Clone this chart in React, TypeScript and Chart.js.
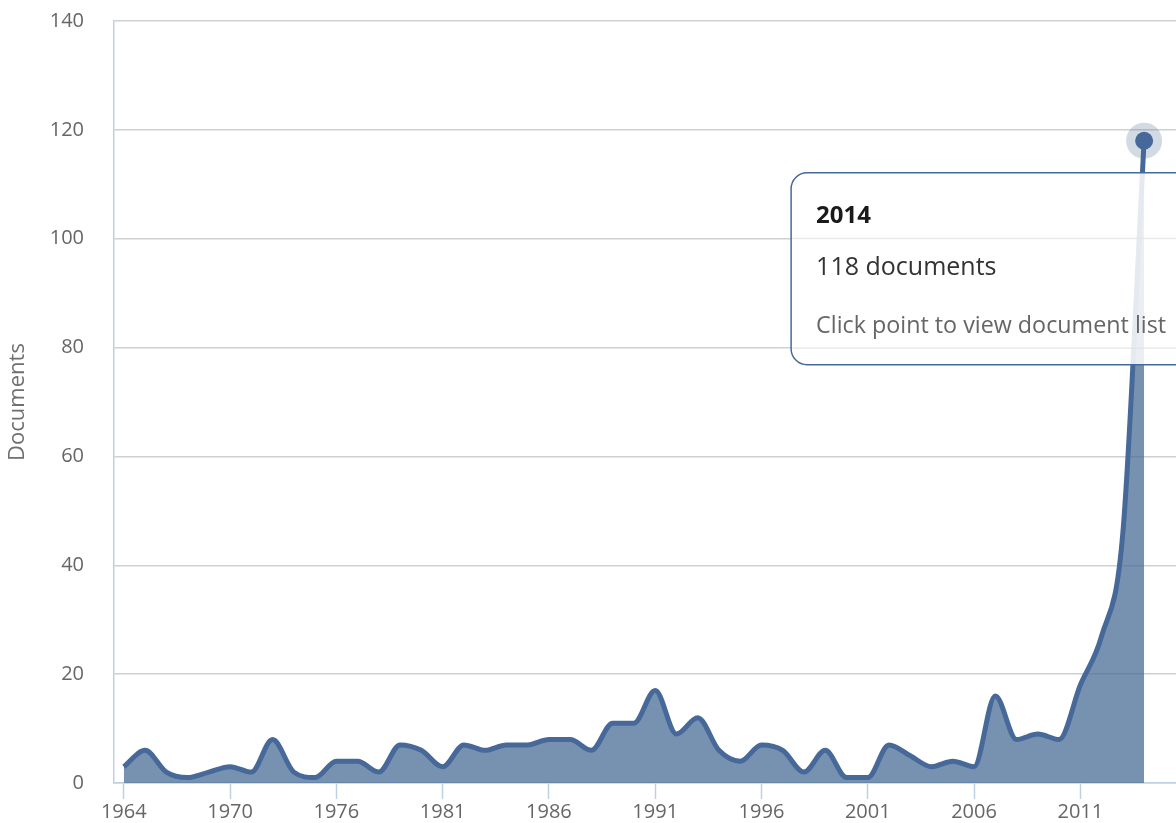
import React, { useEffect, useRef } from 'react';
import { Chart, registerables } from 'chart.js';

Chart.register(...registerables);

// Category years (two years without documents are absent from the axis)
const years = [
  1964, 1965, 1966, 1967, 1969, 1970, 1971, 1972, 1973, 1975,
  1976, 1977, 1978, 1979, 1980, 1981, 1982, 1983, 1984, 1985,
  1986, 1987, 1988, 1989, 1990, 1991, 1992, 1993, 1994, 1995,
  1996, 1997, 1998, 1999, 2000, 2001, 2002, 2003, 2004, 2005,
  2006, 2007, 2008, 2009, 2010, 2011, 2012, 2013, 2014,
];

const documents = [
  3, 6, 2, 1, 2, 3, 2, 8, 2, 1,
  4, 4, 2, 7, 6, 3, 7, 6, 7, 7,
  8, 8, 6, 11, 11, 17, 9, 12, 6, 4,
  7, 6, 2, 6, 1, 1, 7, 5, 3, 4,
  3, 16, 8, 9, 8, 18, 27, 46, 118,
];

const yTickValues = [0, 20, 40, 60, 80, 100, 120, 140];
const xLabelEvery = 5;
const yAxisTitle = 'Documents';
const tooltipUnit = 'documents';
const tooltipHint = 'Click point to view document list';

const FONT = '"Open Sans", "DejaVu Sans", sans-serif';
const LINE = '#46699a';
const AXIS = '#c0d0e0';

const highlightIndex = documents.length - 1;

const staticTooltip = {
  id: 'staticTooltip',
  afterDraw(chart: any) {
    const meta = chart.getDatasetMeta(0);
    const pt = meta.data[highlightIndex];
    if (!pt) return;
    const ctx = chart.ctx as CanvasRenderingContext2D;
    const x0 = pt.x - 353;
    const y0 = pt.y + 32;
    const w = 440;
    const h = 192;
    const r = 16;
    ctx.save();
    ctx.beginPath();
    ctx.moveTo(x0 + r, y0);
    ctx.lineTo(x0 + w - r, y0);
    ctx.arcTo(x0 + w, y0, x0 + w, y0 + r, r);
    ctx.lineTo(x0 + w, y0 + h - r);
    ctx.arcTo(x0 + w, y0 + h, x0 + w - r, y0 + h, r);
    ctx.lineTo(x0 + r, y0 + h);
    ctx.arcTo(x0, y0 + h, x0, y0 + h - r, r);
    ctx.lineTo(x0, y0 + r);
    ctx.arcTo(x0, y0, x0 + r, y0, r);
    ctx.closePath();
    ctx.fillStyle = 'rgba(255,255,255,0.86)';
    ctx.fill();
    ctx.lineWidth = 1.5;
    ctx.strokeStyle = LINE;
    ctx.stroke();

    // faint separators
    ctx.strokeStyle = 'rgba(225,225,225,0.8)';
    ctx.lineWidth = 1;
    ctx.beginPath();
    ctx.moveTo(x0 + 1, y0 + 65.5);
    ctx.lineTo(x0 + w, y0 + 65.5);
    ctx.moveTo(x0 + 1, y0 + 175.5);
    ctx.lineTo(x0 + w, y0 + 175.5);
    ctx.stroke();

    ctx.textAlign = 'left';
    ctx.textBaseline = 'alphabetic';
    ctx.fillStyle = '#1a1a1a';
    ctx.font = `bold 24px ${FONT}`;
    ctx.fillText(String(years[highlightIndex]), x0 + 25, y0 + 50);
    ctx.fillStyle = '#333333';
    ctx.font = `25px ${FONT}`;
    ctx.fillText(`${documents[highlightIndex]} ${tooltipUnit}`, x0 + 25, y0 + 102);
    ctx.fillStyle = '#666666';
    ctx.font = `23.3px ${FONT}`;
    ctx.fillText(tooltipHint, x0 + 25, y0 + 160);
    ctx.restore();
  },
};

export default function App() {
  const canvasRef = useRef<HTMLCanvasElement | null>(null);

  useEffect(() => {
    if (!canvasRef.current) return;
    const points = documents.map((v, i) => ({ x: i, y: v }));
    const haloPoints = documents.map((v, i) => ({ x: i, y: i === highlightIndex ? v : null }));

    const chart = new Chart(canvasRef.current, {
      type: 'line',
      data: {
        datasets: [
          {
            data: points,
            order: 0,
            borderColor: LINE,
            borderWidth: 5,
            backgroundColor: 'rgba(74,109,149,0.75)',
            fill: 'origin',
            cubicInterpolationMode: 'monotone',
            pointRadius: (c: any) => (c.dataIndex === highlightIndex ? 9 : 0),
            pointBackgroundColor: LINE,
            pointBorderWidth: 0,
            pointHoverRadius: 0,
          },
          {
            data: haloPoints,
            order: 1,
            showLine: false,
            fill: false,
            pointRadius: 18,
            pointBackgroundColor: 'rgba(74,109,149,0.25)',
            pointBorderWidth: 0,
            pointHoverRadius: 0,
          },
        ],
      },
      options: {
        animation: false,
        responsive: true,
        maintainAspectRatio: false,
        devicePixelRatio: 1,
        events: [],
        layout: { autoPadding: false, padding: { top: 21, right: 0, bottom: 0, left: 0 } },
        plugins: {
          legend: { display: false },
          tooltip: { enabled: false },
        },
        scales: {
          x: {
            type: 'linear',
            min: -0.46,
            max: 49.5,
            afterBuildTicks: (s: any) => {
              s.ticks = years
                .map((_, i) => i)
                .filter((i) => i % xLabelEvery === 0)
                .map((i) => ({ value: i }));
            },
            afterFit: (s: any) => {
              s.height = 40;
              s.paddingLeft = 0;
              s.paddingRight = 0;
            },
            ticks: {
              autoSkip: false,
              maxRotation: 0,
              padding: 1,
              color: '#666666',
              font: { family: FONT, size: 20 },
              callback: (v: any) => String(years[v] ?? ''),
            },
            grid: {
              drawOnChartArea: false,
              drawTicks: true,
              tickLength: 16,
              tickWidth: 1.5,
              tickColor: AXIS,
              color: AXIS,
            },
            border: { color: AXIS, width: 1.5 },
          },
          y: {
            min: 0,
            max: 140,
            afterBuildTicks: (s: any) => {
              s.ticks = yTickValues.map((v) => ({ value: v }));
            },
            afterFit: (s: any) => {
              s.width = 114;
              s.paddingTop = 0;
              s.paddingBottom = 0;
            },
            ticks: {
              padding: 30,
              color: '#666666',
              font: { family: FONT, size: 20 },
            },
            grid: {
              color: '#d0d0d0',
              lineWidth: 1.5,
              drawTicks: false,
            },
            border: { color: AXIS, width: 1.5 },
            title: {
              display: true,
              text: yAxisTitle,
              color: '#707070',
              font: { family: FONT, size: 22 },
              padding: { top: 5, bottom: 0 },
            },
          },
        },
      },
      plugins: [staticTooltip],
    } as any);

    return () => chart.destroy();
  }, []);

  return (
    <div style={{ position: 'absolute', left: 0, top: 0, width: 1176, height: 823, background: '#ffffff' }}>
      <canvas ref={canvasRef} />
    </div>
  );
}
